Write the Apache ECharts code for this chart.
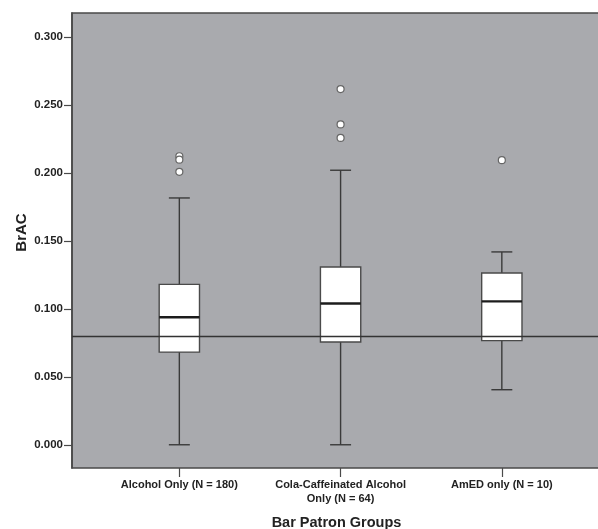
<!DOCTYPE html>
<html>
<head>
<meta charset="utf-8">
<script src="https://cdn.jsdelivr.net/npm/echarts@6/dist/echarts.min.js"></script>
<style>
  html, body { margin: 0; padding: 0; background: #ffffff; }
  #chart { width: 598px; height: 529px; }
</style>
</head>
<body>
<div id="chart"></div>
<script>
// ---- data ----
const categories = ['Alcohol Only (N = 180)', 'Cola-Caffeinated Alcohol\nOnly (N = 64)', 'AmED only (N = 10)'];
const whiskerLow  = [0.000, 0.000, 0.0405];
const q1          = [0.0682, 0.0756, 0.0766];
const median      = [0.0938, 0.1039, 0.1055];
const q3          = [0.1180, 0.1308, 0.1264];
const whiskerHigh = [0.1816, 0.2020, 0.1419];
const outlierGroup = [0, 0, 0, 1, 1, 1, 2];
const outlierValue = [0.2123, 0.2098, 0.2008, 0.2617, 0.2357, 0.2258, 0.2094];
const referenceLine = 0.08;
const yTicks = [0.000, 0.050, 0.100, 0.150, 0.200, 0.250, 0.300];
const xTicks = [0, 1, 2];

const boxData = categories.map((c, i) => [i, whiskerLow[i], q1[i], median[i], q3[i], whiskerHigh[i]]);
const outlierData = outlierGroup.map((g, k) => [g, outlierValue[k]]);

const FONT = '"Liberation Sans", Arial, Helvetica, sans-serif';
const TXT = '#222222';

function renderBox(params, api) {
  const i = api.value(0);
  const lo = api.coord([i, api.value(1)]);
  const b1 = api.coord([i, api.value(2)]);
  const md = api.coord([i, api.value(3)]);
  const b3 = api.coord([i, api.value(4)]);
  const hi = api.coord([i, api.value(5)]);
  const band = api.size([1, 0])[0];
  const boxW = band * 0.25;
  const capW = band * 0.13;
  const x = lo[0];
  const ls = { stroke: '#3a3a3a', lineWidth: 1.4 };
  return {
    type: 'group',
    children: [
      { type: 'line', shape: { x1: x, y1: lo[1], x2: x, y2: b1[1] }, style: ls },
      { type: 'line', shape: { x1: x, y1: b3[1], x2: x, y2: hi[1] }, style: ls },
      { type: 'line', shape: { x1: x - capW / 2, y1: lo[1], x2: x + capW / 2, y2: lo[1] }, style: ls },
      { type: 'line', shape: { x1: x - capW / 2, y1: hi[1], x2: x + capW / 2, y2: hi[1] }, style: ls },
      { type: 'rect', shape: { x: x - boxW / 2, y: b3[1], width: boxW, height: b1[1] - b3[1] },
        style: { fill: '#ffffff', stroke: '#4a4a4a', lineWidth: 1.4 } },
      { type: 'line', shape: { x1: x - boxW / 2, y1: md[1], x2: x + boxW / 2, y2: md[1] },
        style: { stroke: '#1c1c1c', lineWidth: 2.4 } }
    ]
  };
}

const chart = echarts.init(document.getElementById('chart'), null, { renderer: 'canvas' });
chart.setOption({
  animation: false,
  backgroundColor: '#ffffff',
  grid: {
    left: 72, right: -3, top: 13, bottom: 61,
    outerBoundsMode: 'none',
    containLabel: false,
    show: true, backgroundColor: '#a9aaae', borderColor: '#4a4a4a', borderWidth: 1.6
  },
  xAxis: {
    type: 'value',
    position: 'bottom',
    min: -0.6657, max: 2.615,
    axisLine: { show: false, onZero: false },
    splitLine: { show: false },
    axisTick: { show: true, customValues: xTicks, length: 9, lineStyle: { color: '#4a4a4a', width: 1.2 } },
    axisLabel: {
      customValues: xTicks,
      formatter: v => categories[Math.round(v)] || '',
      margin: 10, lineHeight: 14,
      fontFamily: FONT, fontSize: 11, fontWeight: 'bold', color: TXT, align: 'center'
    },
    name: 'Bar Patron Groups',
    nameLocation: 'middle',
    nameGap: 47,
    nameMoveOverlap: false,
    nameTextStyle: { fontFamily: FONT, fontSize: 14.5, fontWeight: 'bold', color: TXT }
  },
  yAxis: {
    type: 'value',
    position: 'left',
    min: -0.0171, max: 0.3177,
    axisLine: { show: true, onZero: false, lineStyle: { color: '#4a4a4a', width: 1.6 } },
    splitLine: { show: false },
    axisTick: { show: true, customValues: yTicks, length: 8, lineStyle: { color: '#4a4a4a', width: 1.2 } },
    axisLabel: {
      customValues: yTicks,
      formatter: v => v.toFixed(3),
      margin: 9,
      fontFamily: FONT, fontSize: 11.5, fontWeight: 'bold', color: TXT
    },
    name: 'BrAC',
    nameLocation: 'middle',
    nameRotate: 90,
    nameGap: 43,
    nameMoveOverlap: false,
    nameTextStyle: { fontFamily: FONT, fontSize: 15, fontWeight: 'bold', color: TXT, padding: [0, 0, 0, 16] }
  },
  series: [
    {
      type: 'custom',
      renderItem: renderBox,
      data: boxData,
      encode: { x: 0, y: [1, 2, 3, 4, 5] },
      z: 2,
      silent: true
    },
    {
      type: 'scatter',
      data: outlierData,
      symbol: 'circle',
      symbolSize: 7,
      itemStyle: { color: '#ffffff', borderColor: '#666666', borderWidth: 1.2, opacity: 1 },
      z: 6,
      silent: true,
      markLine: {
        silent: true,
        symbol: 'none',
        label: { show: false },
        lineStyle: { color: '#333333', width: 1.3, type: 'solid' },
        data: [{ yAxis: referenceLine }],
        z: 5
      }
    }
  ]
});
</script>
</body>
</html>
